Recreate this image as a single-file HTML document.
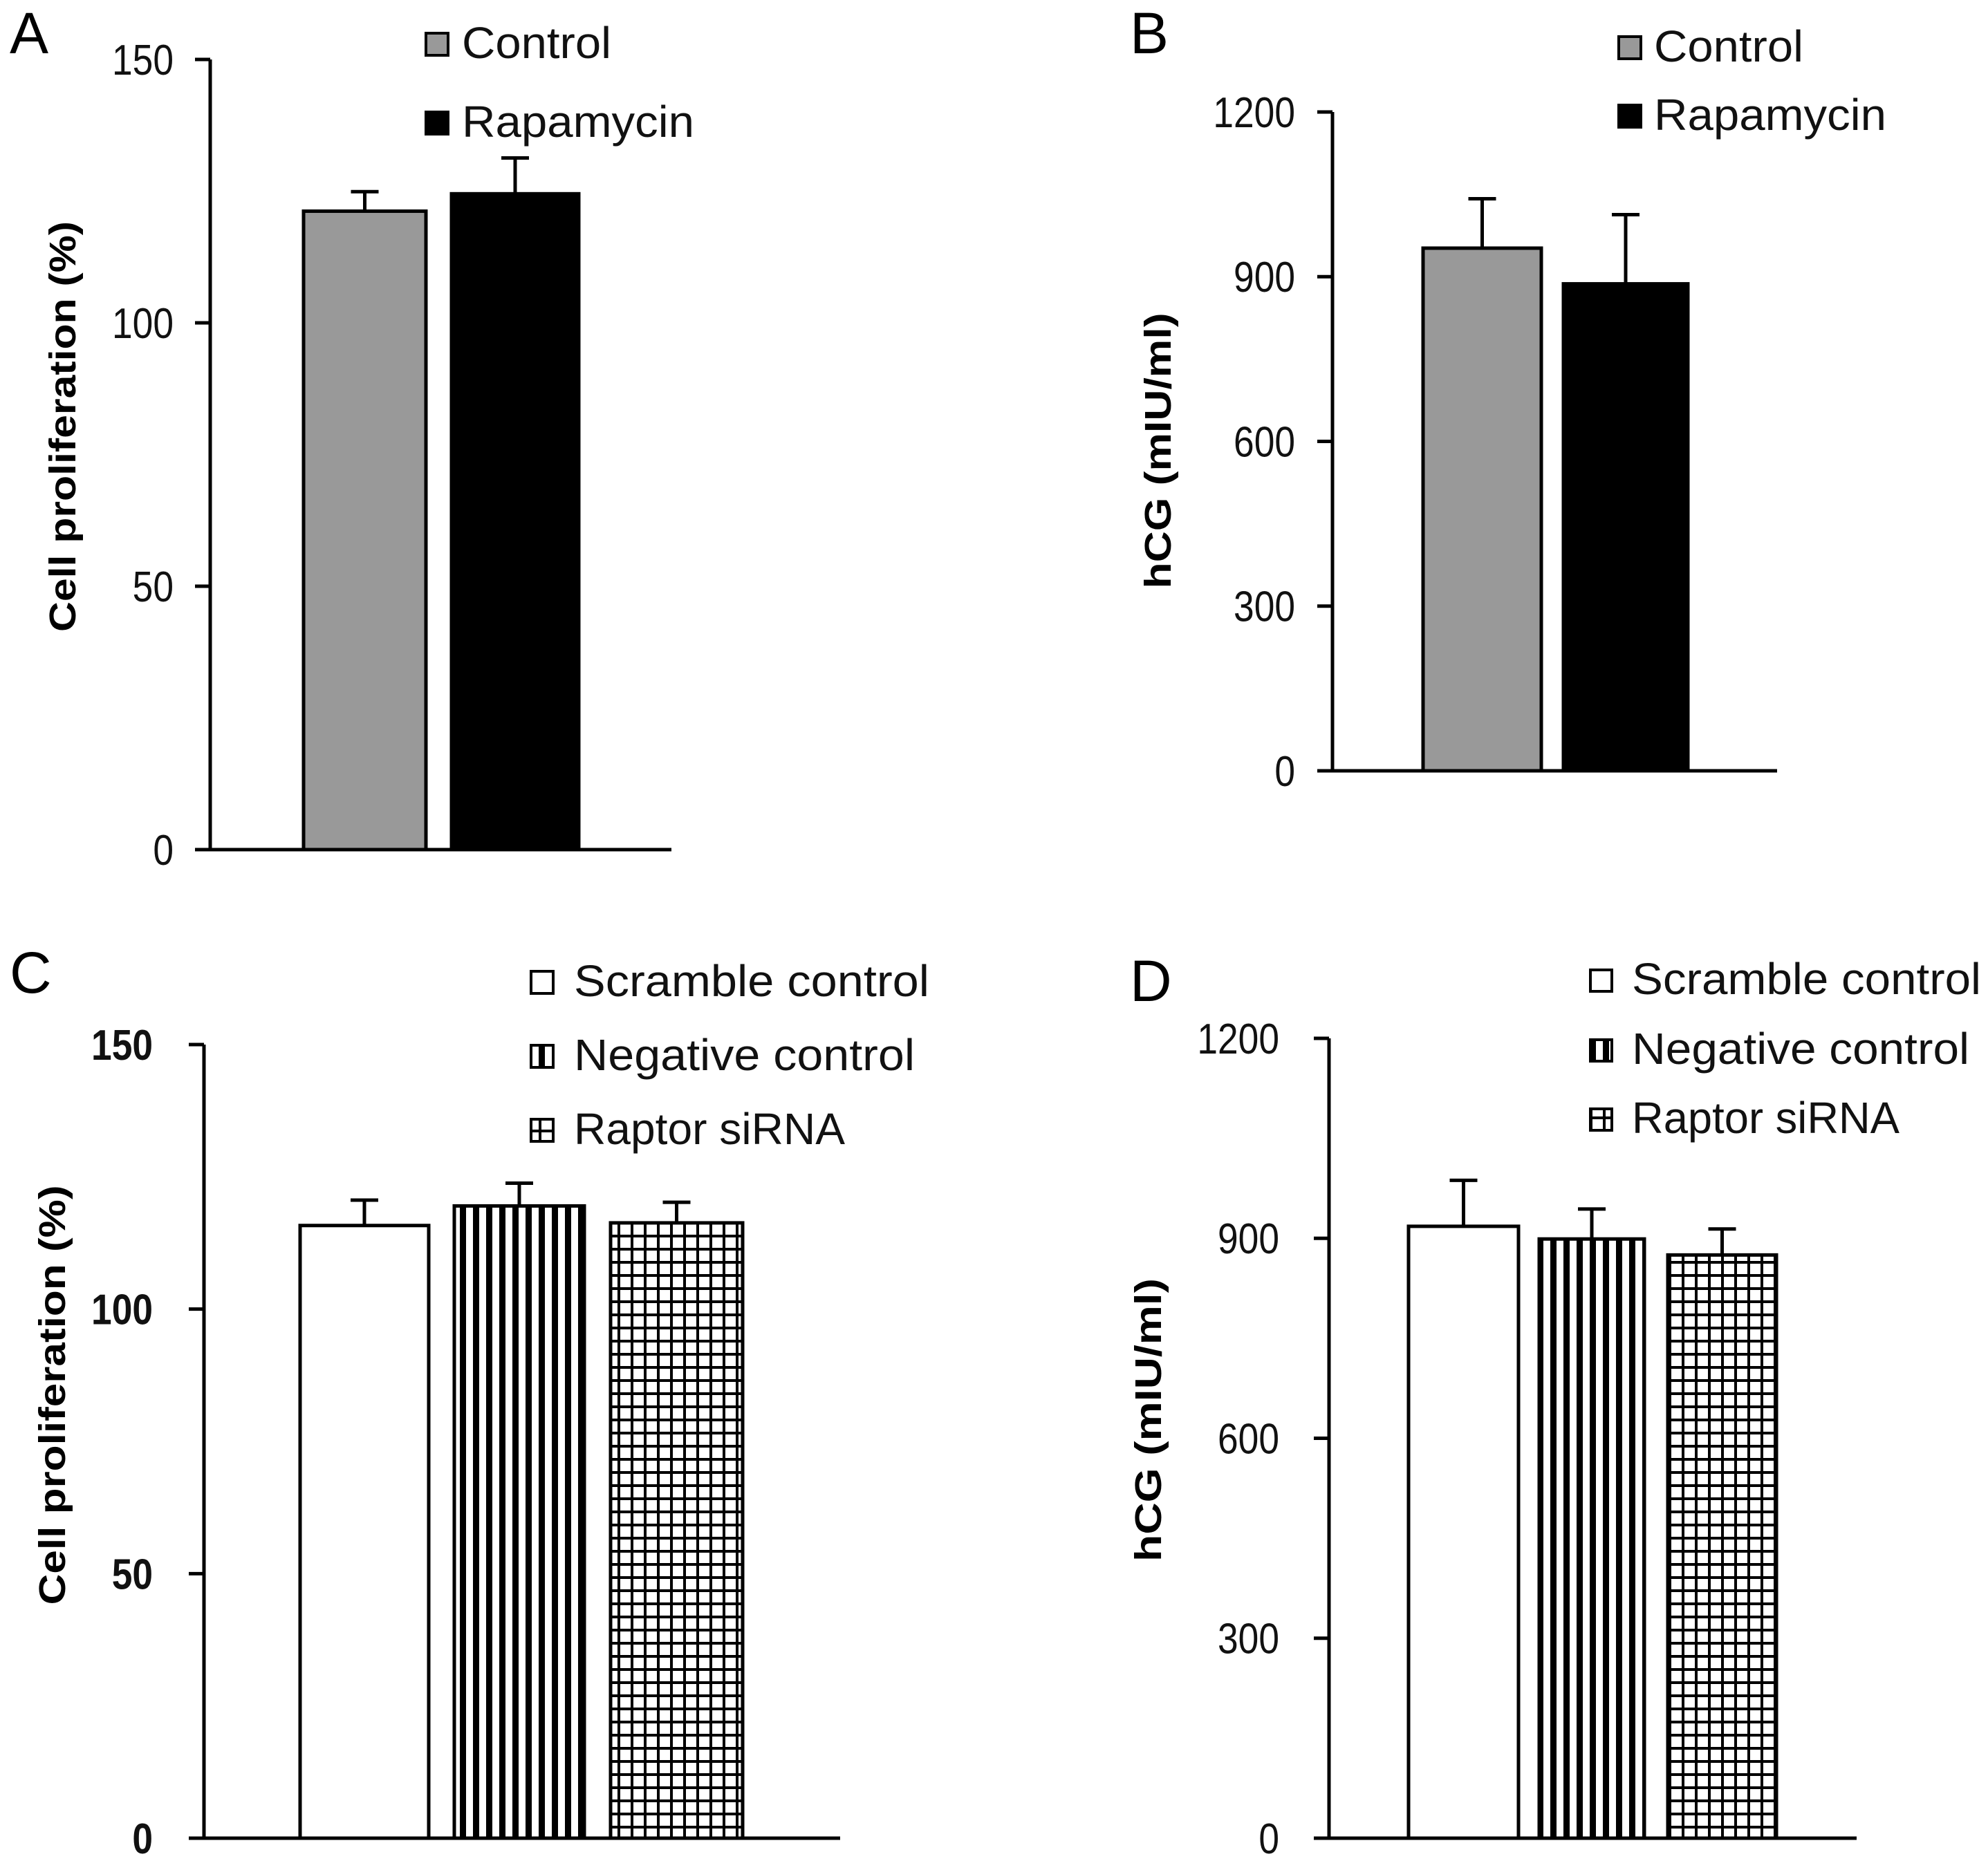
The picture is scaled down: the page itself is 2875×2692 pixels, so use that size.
<!DOCTYPE html>
<html><head><meta charset="utf-8">
<style>
html,body{margin:0;padding:0;background:#fff;}
svg{display:block;font-family:"Liberation Sans",Arial,sans-serif;}
</style></head>
<body>
<svg id="fig" width="2875" height="2692" viewBox="0 0 2875 2692" xmlns="http://www.w3.org/2000/svg">
<defs>
<pattern id="stripes" patternUnits="userSpaceOnUse" width="19" height="19">
<rect x="0" y="0" width="19" height="19" fill="#fff"/>
<rect x="0" y="0" width="9" height="19" fill="#000"/>
</pattern>
<pattern id="grid" patternUnits="userSpaceOnUse" width="19" height="19">
<rect x="0" y="0" width="19" height="19" fill="#fff"/>
<rect x="0" y="0" width="4" height="19" fill="#000"/>
<rect x="0" y="0" width="19" height="4" fill="#000"/>
</pattern>
</defs>
</svg>
<script>
// Panel A data
const catsA = ["Control", "Rapamycin"];
const valsA = [121.2, 124.5];
const errA = [3.7, 6.8];
const ticksA = [0, 50, 100, 150];
// Panel B data
const catsB = ["Control", "Rapamycin"];
const valsB = [952, 887];
const errB = [90, 126];
const ticksB = [0, 300, 600, 900, 1200];
// Panel C data
const catsC = ["Scramble control", "Negative control", "Raptor siRNA"];
const valsC = [115.8, 119.5, 116.3];
const errC = [4.8, 4.3, 3.9];
const ticksC = [0, 50, 100, 150];
// Panel D data
const catsD = ["Scramble control", "Negative control", "Raptor siRNA"];
const valsD = [918, 899, 875];
const errD = [69, 45, 39];
const ticksD = [0, 300, 600, 900, 1200];

const NS = "http://www.w3.org/2000/svg";
const svg = document.getElementById("fig");
function mk(tag, attrs, parent) {
  const e = document.createElementNS(NS, tag);
  for (const k in attrs) e.setAttribute(k, attrs[k]);
  (parent || svg).appendChild(e);
  return e;
}

const panels = [
  {id:"a", letter:"A", lx:14, ly:77, cats:catsA, vals:valsA, errs:errA, ticks:ticksA, max:150,
   ax:304, y0:1229, yTop:86, xEnd:971, labRight:251, tickBold:false,
   bars:[[439,616],[653,837]], fills:["#999999","#000000"],
   title:"Cell proliferation (%)", tx:89, ty:617, tlen:594,
   leg:{sx:614, ts:668, base:[84,198], lens:[216,336], size:36}},
  {id:"b", letter:"B", lx:1634, ly:77, cats:catsB, vals:valsB, errs:errB, ticks:ticksB, max:1200,
   ax:1927, y0:1115, yTop:162, xEnd:2570, labRight:1873, tickBold:false,
   bars:[[2058,2229],[2261,2441]], fills:["#999999","#000000"],
   title:"hCG (mIU/ml)", tx:1673, ty:652, tlen:399,
   leg:{sx:2339, ts:2392, base:[89,188], lens:[216,336], size:36}},
  {id:"c", letter:"C", lx:14, ly:1436, cats:catsC, vals:valsC, errs:errC, ticks:ticksC, max:150,
   ax:295, y0:2659, yTop:1511, xEnd:1215, labRight:221, tickBold:true,
   bars:[[434,620],[657,845],[883,1074]], fills:["#ffffff","url(#stripes)","url(#grid)"],
   title:"Cell proliferation (%)", tx:74, ty:2018, tlen:607,
   leg:{sx:766, ts:830, base:[1441,1548,1655], lens:[514,493,392], size:36}},
  {id:"d", letter:"D", lx:1634, ly:1448, cats:catsD, vals:valsD, errs:errD, ticks:ticksD, max:1200,
   ax:1922, y0:2659, yTop:1502, xEnd:2685, labRight:1850, tickBold:false,
   bars:[[2037,2196],[2226,2378],[2412,2569]], fills:["#ffffff","url(#stripes)","url(#grid)"],
   title:"hCG (mIU/ml)", tx:1659, ty:2054, tlen:410,
   leg:{sx:2298, ts:2360, base:[1438,1539,1639], lens:[505,488,387], size:35}}
];

panels.forEach(p => {
  const g = mk("g", {});
  
  
  const yS = v => p.y0 - (v / p.max) * (p.y0 - p.yTop);

  const L = mk("text", {x:p.lx, y:p.ly, "font-size":84, fill:"#000"}, g);
  L.textContent = p.letter;
  
  

  p.vals.forEach((v, i) => {
    const [x1, x2] = p.bars[i];
    const xc = (x1 + x2) / 2;
    const eTop = yS(v + p.errs[i]);
    const el = mk("line", {x1:xc, x2:xc, y1:yS(v), y2:eTop, stroke:"#000", "stroke-width":5}, g);
    
    
    const cap = mk("line", {x1:xc-20, x2:xc+20, y1:eTop, y2:eTop, stroke:"#000", "stroke-width":5}, g);
    
    
    const r = mk("rect", {x:x1, y:yS(v), width:x2-x1, height:p.y0-yS(v), fill:p.fills[i], stroke:"#000", "stroke-width":5}, g);
    
    
  });

  const ya = mk("line", {x1:p.ax, x2:p.ax, y1:p.yTop, y2:p.y0, stroke:"#000", "stroke-width":5}, g);
  
  
  const xa = mk("line", {x1:p.ax-22, x2:p.xEnd, y1:p.y0, y2:p.y0, stroke:"#000", "stroke-width":5}, g);
  
  

  p.ticks.forEach(t => {
    const y = yS(t);
    const tk = mk("line", {x1:p.ax-22, x2:p.ax, y1:y, y2:y, stroke:"#000", "stroke-width":5}, g);
    
    
    const tl = mk("text", {x:p.labRight, y:y+22, "font-size":62, "text-anchor":"end", fill:"#111",
      "font-weight": p.tickBold ? "bold" : "normal", transform:"translate(" + p.labRight + " " + y + ") scale(0.86 1) translate(" + (-p.labRight) + " " + (-y) + ")"}, g);
    tl.textContent = t;
    
    
  });

  const tt = mk("text", {x:0, y:0, "font-size":54, "font-weight":"bold", "text-anchor":"middle",
    textLength:p.tlen, lengthAdjust:"spacingAndGlyphs",
    transform:"translate(" + (p.tx+20) + " " + p.ty + ") rotate(-90)"}, g);
  tt.textContent = p.title;
  
  

  p.cats.forEach((c, i) => {
    const b = p.leg.base[i];
    const sq = mk("rect", {x:p.leg.sx+2, y:b-p.leg.size, width:p.leg.size-4, height:p.leg.size-4,
      fill:p.fills[i], stroke:"#000", "stroke-width":4}, g);
    
    
    const lt = mk("text", {x:p.leg.ts, y:b, "font-size":64, fill:"#111",
      textLength:p.leg.lens[i], lengthAdjust:"spacingAndGlyphs"}, g);
    lt.textContent = c;
    
    
  });
});
</script>
</body></html>
